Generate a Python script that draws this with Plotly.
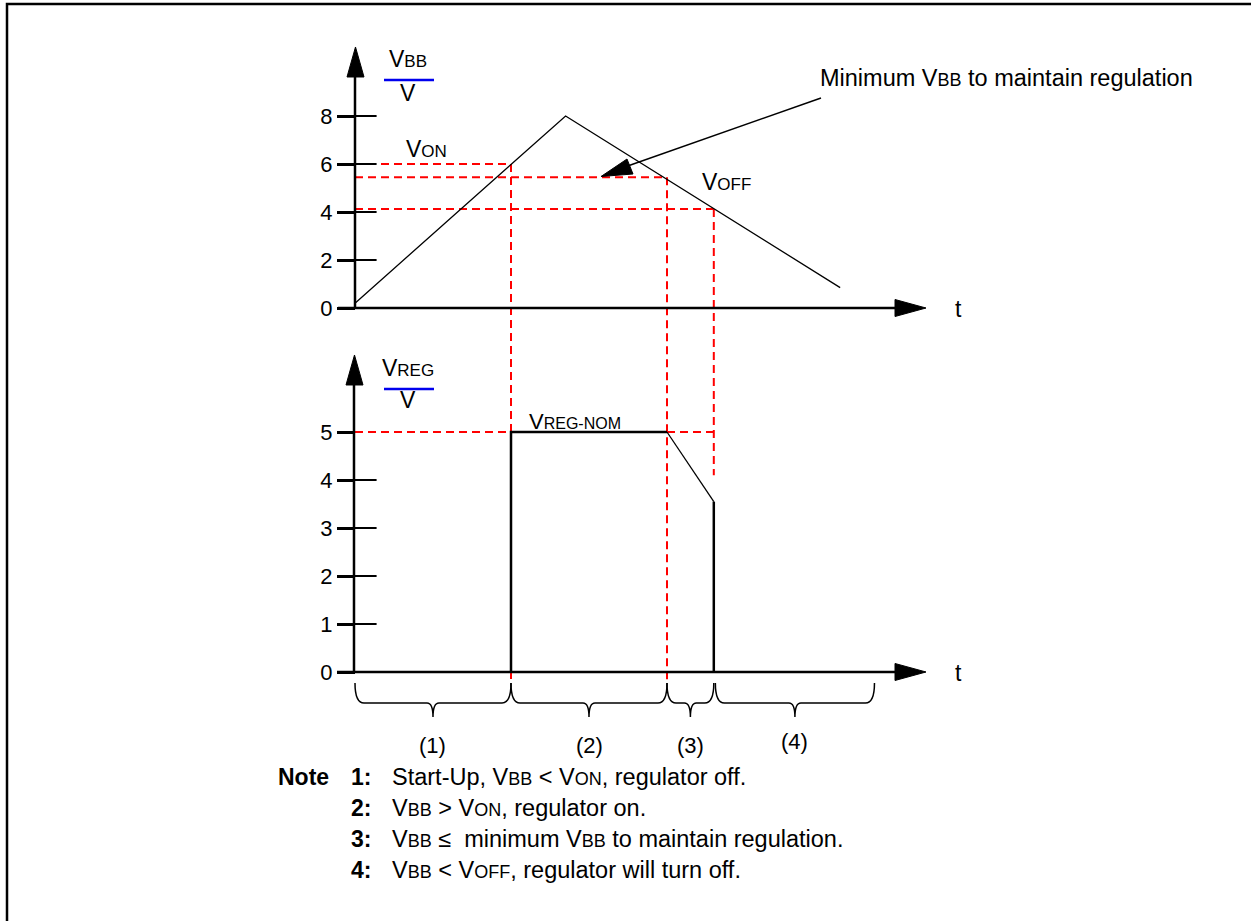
import plotly.graph_objects as go

# ---------------- data ----------------
t_vbb = [0.0, 13.5, 31.1]          # time points of VBB ramp
v_bb = [0.2, 8.0, 0.85]            # VBB values (V)
t_reg = [10.0, 10.0, 20.0, 23.0, 23.0]
v_reg = [0.0, 5.0, 5.0, 3.55, 0.0]  # VREG values (V)
V_ON, V_MIN, V_OFF, V_REG_NOM = 6.0, 5.45, 4.12, 5.0
T_ON, T_MIN, T_OFF = 10.0, 20.0, 23.0
top_ticks = [0, 2, 4, 6, 8]
bot_ticks = [0, 1, 2, 3, 4, 5]
phase_edges = [(0.0, 10.0), (10.0, 20.0), (20.0, 23.0), (23.1, 33.3)]
phase_labels = ["(1)", "(2)", "(3)", "(4)"]
note_nums = ["1:", "2:", "3:", "4:"]
SMN = "<span style='font-size:18px'>{}</span>"
note_texts = [
    "Start-Up, V" + SMN.format("BB") + " &lt; V" + SMN.format("ON") + ", regulator off.",
    "V" + SMN.format("BB") + " &gt; V" + SMN.format("ON") + ", regulator on.",
    "V" + SMN.format("BB") + " \u2264  minimum V" + SMN.format("BB") + " to maintain regulation.",
    "V" + SMN.format("BB") + " &lt; V" + SMN.format("OFF") + ", regulator will turn off.",
]

# ---------------- geometry ----------------
W, H = 1251, 921
PX_PER_T = 15.6
T0_PX = 355
X_RANGE = [-T0_PX / PX_PER_T, (W - T0_PX) / PX_PER_T]
Y1_RANGE = [-(H - 308) / 24.0, 308 / 24.0]
Y2_RANGE = [-(H - 672) / 48.0, 672 / 48.0]
FONT = "Liberation Sans, Arial, sans-serif"
RED = "#ff0000"
DASH = "8px,5px"


def px(x):
    return x / W


def py(y):
    return 1 - y / H


def y2_to_y1(v):
    f = (v - Y2_RANGE[0]) / (Y2_RANGE[1] - Y2_RANGE[0])
    return Y1_RANGE[0] + f * (Y1_RANGE[1] - Y1_RANGE[0])


def ppath(points, close=False):
    s = "M " + " L ".join(f"{px(x):.5f},{py(y):.5f}" for x, y in points)
    return s + (" Z" if close else "")


fig = go.Figure()

# red dashed guide lines (top panel)
for v, t_end in [(V_ON, T_ON), (V_MIN, T_MIN), (V_OFF, T_OFF)]:
    fig.add_trace(go.Scatter(x=[0, t_end], y=[v, v], mode="lines",
                             line=dict(color=RED, width=2, dash=DASH), yaxis="y"))
# verticals crossing into lower panel
for t, v_top, v_bot in [(T_ON, V_ON, -0.17), (T_MIN, V_MIN, -0.17), (T_OFF, V_OFF, 4.1)]:
    fig.add_trace(go.Scatter(x=[t, t], y=[v_top, y2_to_y1(v_bot)], mode="lines",
                             line=dict(color=RED, width=2, dash=DASH), yaxis="y"))
# lower panel nominal line
fig.add_trace(go.Scatter(x=[0, T_OFF + 0.3], y=[V_REG_NOM, V_REG_NOM], mode="lines",
                         line=dict(color=RED, width=2, dash=DASH), yaxis="y2"))

# VBB curve
fig.add_trace(go.Scatter(x=t_vbb, y=v_bb, mode="lines",
                         line=dict(color="black", width=1.3), yaxis="y"))
# VREG curve (thick verticals/flat, thin slope)
fig.add_trace(go.Scatter(x=t_reg[:3], y=v_reg[:3], mode="lines",
                         line=dict(color="black", width=2.5), yaxis="y2"))
fig.add_trace(go.Scatter(x=t_reg[2:4], y=v_reg[2:4], mode="lines",
                         line=dict(color="black", width=1.3), yaxis="y2"))
fig.add_trace(go.Scatter(x=t_reg[3:], y=v_reg[3:], mode="lines",
                         line=dict(color="black", width=2.5), yaxis="y2"))

# inner halves of the tick marks
inner_t = 9 / PX_PER_T
fig.add_trace(go.Scatter(x=[inner_t] * len(top_ticks), y=top_ticks, mode="markers",
                         marker=dict(symbol="line-ew", size=18, line=dict(color="black", width=2)),
                         yaxis="y"))
bt = [b for b in bot_ticks if b != 5]
fig.add_trace(go.Scatter(x=[inner_t] * len(bt), y=bt, mode="markers",
                         marker=dict(symbol="line-ew", size=18, line=dict(color="black", width=2)),
                         yaxis="y2"))

shapes = []
# frame
shapes.append(dict(type="path", xref="paper", yref="paper",
                   path=ppath([(7, 921), (7, 4), (1251, 4)]),
                   line=dict(color="black", width=2.5)))
# axes lines
for pts in [[(355, 77), (355, 309)], [(338, 308), (896, 308)],
            [(354, 385), (354, 673)], [(337, 672), (896, 672)]]:
    shapes.append(dict(type="path", xref="paper", yref="paper", path=ppath(pts),
                       line=dict(color="black", width=2.5)))
# arrow heads
for tri in [[(355.5, 47), (347, 77), (364, 77)], [(354.5, 355), (346, 385), (363, 385)],
            [(926, 308), (895, 299.5), (895, 316.5)], [(926, 672), (895, 663.5), (895, 680.5)]]:
    shapes.append(dict(type="path", xref="paper", yref="paper", path=ppath(tri, True),
                       fillcolor="black", line=dict(color="black", width=1)))
# pointer arrow for minimum VBB
shapes.append(dict(type="path", xref="paper", yref="paper",
                   path=ppath([(821, 98), (622, 168)]), line=dict(color="black", width=1.5)))
shapes.append(dict(type="path", xref="paper", yref="paper",
                   path=ppath([(601, 176.5), (627, 159), (633, 174)], True),
                   fillcolor="black", line=dict(color="black", width=1)))
# blue fraction bars
for yb in [80, 389]:
    shapes.append(dict(type="line", xref="paper", yref="paper", x0=px(384), x1=px(434),
                       y0=py(yb), y1=py(yb), line=dict(color="#0000ee", width=2.5)))

# braces under the time axis
yt, yf, yp = 683, 703, 717


def tx(t):
    return T0_PX + t * PX_PER_T


for (a, b) in phase_edges:
    xa, xb = tx(a), tx(b)
    m = (xa + xb) / 2
    d = "M {0},{1} Q {2},{3} {4},{3} L {5},{3} Q {6},{3} {6},{7} Q {6},{3} {8},{3} L {9},{3} Q {10},{3} {10},{1}".format(
        f"{px(xa):.5f}", f"{py(yt):.5f}", f"{px(xa):.5f}", f"{py(yf):.5f}", f"{px(xa + 9):.5f}",
        f"{px(m - 6):.5f}", f"{px(m):.5f}", f"{py(yp):.5f}", f"{px(m + 6):.5f}",
        f"{px(xb - 9):.5f}", f"{px(xb):.5f}")
    shapes.append(dict(type="path", xref="paper", yref="paper", path=d,
                       line=dict(color="black", width=1.5)))

ann = []


def text(x, y, s, size=19, anchor="center", bold=False):
    ann.append(dict(x=px(x), y=py(y), xref="paper", yref="paper", text=(f"<b>{s}</b>" if bold else s),
                    showarrow=False, xanchor=anchor, yanchor="middle",
                    font=dict(family=FONT, size=size, color="black")))


SM = "<span style='font-size:17px'>{}</span>"
text(408, 59, "V" + SM.format("BB"), 23)
text(408, 93, "V", 23)
text(408, 368, "V" + SM.format("REG"), 23)
text(408, 400, "V", 23)
text(404, 149, "V" + SM.format("ON"), 23, "left")
text(700, 182, "V" + SM.format("OFF"), 23, "left")
text(527, 421, "V<span style='font-size:16px'>REG-NOM</span>", 22, "left")
text(818, 78, "Minimum V" + SMN.format("BB") + " to maintain regulation", 23.5, "left")
text(958, 309, "t", 23)
text(958, 673, "t", 23)
for (a, b), lab, ly in zip(phase_edges, phase_labels, [745, 745, 745, 741]):
    text(tx((a + b) / 2), ly, lab, 22)
text(276, 777, "Note", 23, "left", True)
for i, (n, s) in enumerate(zip(note_nums, note_texts)):
    yy = 777 + 31 * i
    text(373, yy, n, 23, "right", True)
    text(390, yy, s, 23.5, "left")

axis_common = dict(showgrid=False, zeroline=False, showline=False, ticks="outside", ticklen=18,
                   tickwidth=2.5, tickcolor="black", anchor="free", position=T0_PX / W,
                   tickfont=dict(family=FONT, size=22, color="black"), domain=[0, 1])

fig.update_layout(
    width=W, height=H, margin=dict(l=0, r=0, t=0, b=0),
    paper_bgcolor="white", plot_bgcolor="white", showlegend=False,
    xaxis=dict(range=X_RANGE, visible=False, domain=[0, 1]),
    yaxis=dict(range=Y1_RANGE, tickvals=top_ticks, **axis_common),
    yaxis2=dict(range=Y2_RANGE, tickvals=bot_ticks, overlaying="y", **axis_common),
    shapes=shapes, annotations=ann,
)

fig.write_html("out.html", config={"displayModeBar": False},
               post_script="document.body.style.margin='0px';document.body.style.overflow='hidden';")
